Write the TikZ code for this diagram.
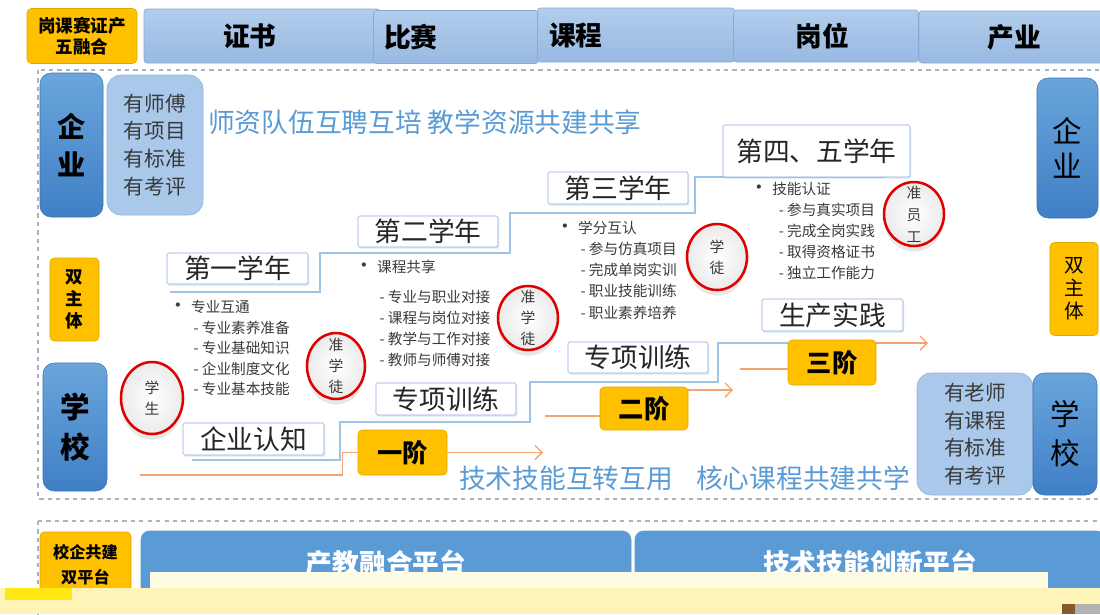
\documentclass[tikz,border=0pt]{standalone}
\usepackage{fontspec}
\setmainfont{Noto Sans CJK SC}
\usepackage{xcolor}
\usetikzlibrary{shapes.geometric, arrows.meta, positioning, calc, shadows}

\definecolor{hdrtop}{HTML}{B2CDEC}
\definecolor{hdrbot}{HTML}{98B9E2}
\definecolor{hdredge}{HTML}{86ABD9}
\definecolor{gold}{HTML}{FFC000}
\definecolor{goldedge}{HTML}{E0A800}
\definecolor{darktop}{HTML}{6AA5DC}
\definecolor{darkbot}{HTML}{3F7FC5}
\definecolor{darkedge}{HTML}{3A74B4}
\definecolor{lightfill}{HTML}{A9C8EA}
\definecolor{lightedge}{HTML}{8DB3E2}
\definecolor{yearedge}{HTML}{8FAADC}
\definecolor{ringred}{HTML}{E00000}
\definecolor{stairblue}{HTML}{9DC3E6}
\definecolor{orline0}{HTML}{F3A470}
\definecolor{sloganblue}{HTML}{5B9BD5}
\definecolor{txtgray}{HTML}{3A3A3A}
\definecolor{platblue}{HTML}{5B9BD5}
\definecolor{framegray}{HTML}{A6B4C8}
\definecolor{cream}{HTML}{FFFBE3}
\definecolor{creamB}{HTML}{FFF4B8}
\definecolor{lemon}{HTML}{FFE814}

\newcommand{\setfs}[2]{\fontsize{#1}{#2}\selectfont}
\newcommand{\subitm}[1]{\hspace*{18pt}- #1}
\newcommand{\dotitm}[1]{{\setfs{14}{14}•} #1}

\begin{document}
\begin{tikzpicture}[
    x=0.025cm, y=-0.025cm,
    sz/.style 2 args={minimum width=#1*0.025cm, minimum height=#2*0.025cm},
    hdrbox/.style={draw=hdredge, top color=hdrtop, bottom color=hdrbot, rounded corners=2pt, inner sep=0pt},
    hdrtext/.style={font=\bfseries\setfs{19}{21}, text=black},
    goldbox/.style={draw=goldedge, fill=gold, rounded corners=3pt, inner sep=0pt, align=center},
    darkbox/.style={draw=darkedge, top color=darktop, bottom color=darkbot, rounded corners=8pt, inner sep=0pt, align=center},
    lightbox/.style={draw=lightedge, fill=lightfill, rounded corners=10pt, inner sep=0pt, align=center, text=txtgray},
    yearbox/.style={draw=yearedge, fill=white, rounded corners=1pt, inner sep=0pt, font=\setfs{19}{21}, text=black!85,
        drop shadow={shadow xshift=1pt, shadow yshift=-1.5pt, opacity=0.25, fill=stairblue}},
    stagebox/.style={goldbox, font=\bfseries\setfs{18}{20}},
    rolering/.style={ellipse, draw=ringred, line width=1.8pt, inner color=white, outer color=gray!16,
        drop shadow={shadow xshift=0pt, shadow yshift=-4pt, opacity=0.18}, inner sep=0pt},
    ringtext/.style={align=center, inner sep=0pt, text=txtgray, font=\setfs{10.5}{14.8}},
    list/.style={anchor=north west, inner sep=0pt, align=left, text=txtgray, font=\setfs{10.4}{15}},
    stair/.style={draw=stairblue, line width=1.2pt},
    orline/.style={draw=orline0, line width=1pt},
    orarrow/.style={orline, -{Straight Barb[length=5pt,width=10pt]}},
    slogan/.style={text=sloganblue, font=\setfs{19}{21}},
    frame/.style={draw=framegray, dashed, line width=0.8pt},
    platbox/.style={draw=platblue, fill=platblue, rounded corners=6pt, inner sep=0pt, text=white, font=\bfseries\setfs{19}{21}}
]
    \useasboundingbox[fill=white] (0,0) rectangle (1100,614);

    % five-fold header
    \node[goldbox, sz={110}{55}, font=\bfseries\setfs{12.5}{15}] (tag) at (82,36) {岗课赛证产\\五融合};
    \node[hdrbox, sz={236}{54}, label={[hdrtext, xshift=-0.3cm]center:证书}] (cert) at (262,36) {};
    \node[hdrbox, sz={165}{53}, label={[hdrtext, xshift=-1.125cm]center:比赛}] (comp) at (456,37) {};
    \node[hdrbox, sz={197}{54}, label={[hdrtext, xshift=-1.5cm]center:课程}] (course) at (636,35) {};
    \node[hdrbox, sz={185}{52}, label={[hdrtext, xshift=-0.1cm]center:岗位}] (post) at (826,36) {};
    \node[hdrbox, sz={190}{52}, label={[hdrtext]center:产业}] (indus) at (1014,37) {};

    % main frame
    \draw[frame] (38,70) rectangle (1110,499);

    % left column
    \node[darkbox, sz={63}{144}, font=\bfseries\setfs{20}{27.6}] (entL) at (71.5,145) {企\\业};
    \node[lightbox, sz={96}{140}, font=\setfs{14.7}{19.8}] (entRes) at (155,145) {有师傅\\有项目\\有标准\\有考评};
    \node[goldbox, sz={49}{83}, font=\bfseries\setfs{12.5}{15.6}] (dualL) at (74.5,299.5) {双\\主\\体};
    \node[darkbox, sz={64}{128}, font=\bfseries\setfs{21}{28}] (schL) at (75,427) {学\\校};

    % right column
    \node[darkbox, sz={61}{140}, font=\setfs{21}{25}] (entR) at (1067.5,148) {企\\业};
    \node[goldbox, sz={48}{93}, font=\setfs{14}{16.3}] (dualR) at (1074,289) {双\\主\\体};
    \node[lightbox, sz={116}{122}, font=\setfs{14.7}{19.6}] (schRes) at (975,434) {有老师\\有课程\\有标准\\有考评};
    \node[darkbox, sz={64}{122}, font=\setfs{21}{27.6}] (schR) at (1065,434) {学\\校};

    % slogans
    \node[slogan] (slogTop) at (425,122) {师资队伍互聘互培 教学资源共建共享};
    \node[slogan] (slogL) at (566,478) {技术技能互转互用};
    \node[slogan] (slogR) at (803,478) {核心课程共建共学};

    % stair lines
    \draw[stair] (170,292) -| (320,253) -| (510,213) -| (695,177) -- (885,177);
    \draw[stair] (192,460) -| (340,422) -| (530,382) -| (718,343) -- (905,343);

    % year boxes
    \node[yearbox, sz={141}{31}] (y1) at (237.5,268.5) {第一学年};
    \node[yearbox, sz={140}{31}] (y2) at (428,231.5) {第二学年};
    \node[yearbox, sz={140}{32}] (y3) at (618,188) {第三学年};
    \node[yearbox, sz={187}{52}] (y4) at (816.5,151) {第四、五学年};

    % training boxes
    \node[yearbox, sz={141}{32}] (t1) at (253.5,439) {企业认知};
    \node[yearbox, sz={140}{32}] (t2) at (446,399) {专项训练};
    \node[yearbox, sz={140}{31}] (t3) at (638,357.5) {专项训练};
    \node[yearbox, sz={141}{32}] (t4) at (832.5,315) {生产实践};

    % stages
    \node[stagebox, sz={89}{45}] (s1) at (402.5,452.5) {一阶};
    \node[stagebox, sz={88}{43}] (s2) at (644,408.5) {二阶};
    \node[stagebox, sz={88}{45}] (s3) at (832,362.5) {三阶};

    \coordinate (e1) at (140,475);
    \coordinate (e2) at (545,416);
    \coordinate (e3) at (740,369);
    \coordinate (a1) at (543,452.5);
    \coordinate (a2) at (733,390);
    \coordinate (a3) at (928,343);
    \draw[orline] (e1) -| ($(s1.west)+(-15,0)$) -- (s1.west);
    \draw[orarrow] (s1.east) -- (a1);
    \draw[orline] (e2) -- (s2.west |- e2);
    \draw[orarrow] (s2.east |- a2) -- (a2);
    \draw[orline] (e3) -- (s3.west |- e3);
    \draw[orarrow] (s3.east |- a3) -- (a3);

    % item lists
    \node[list, font=\setfs{10.4}{14.6}] (list1) at (168,300) {\dotitm{专业互通}\\\subitm{专业素养准备}\\\subitm{专业基础知识}\\\subitm{企业制度文化}\\\subitm{专业基本技能}};
    \node[list] (list2) at (354,260) {\dotitm{课程共享}\\[6pt]\subitm{专业与职业对接}\\\subitm{课程与岗位对接}\\\subitm{教学与工作对接}\\\subitm{教师与师傅对接}};
    \node[list] (list3) at (555,221) {\dotitm{学分互认}\\\subitm{参与仿真项目}\\\subitm{完成单岗实训}\\\subitm{职业技能训练}\\\subitm{职业素养培养}};
    \node[list] (list4) at (749,182) {\dotitm{技能认证}\\\hspace*{3pt}\subitm{参与真实项目}\\\hspace*{3pt}\subitm{完成全岗实践}\\\hspace*{3pt}\subitm{取得资格证书}\\\hspace*{3pt}\subitm{独立工作能力}};

    % roles
    \node[rolering, sz={62}{72}, label={[ringtext]center:学\\生}] (r1) at (152,398) {};
    \node[rolering, sz={58}{66}, label={[ringtext]center:准\\学\\徒}] (r2) at (336,366) {};
    \node[rolering, sz={60}{64}, label={[ringtext]center:准\\学\\徒}] (r3) at (528,318) {};
    \node[rolering, sz={60}{66}, label={[ringtext]center:学\\徒}] (r4) at (717,257) {};
    \node[rolering, sz={60}{64}, label={[ringtext, font=\setfs{10.5}{15.6}]center:准\\员\\工}] (r5) at (914,214) {};

    % platforms
    \draw[frame] (38,521) -- (1110,521);
    \draw[frame] (38,521) -- (38,614);
    \node[goldbox, sz={91}{66}, font=\bfseries\setfs{11.5}{17.5}] (platTag) at (85.5,565) {校企共建\\双平台};
    \node[platbox, sz={490}{64}] (plat1) at (386,563) {产教融合平台};
    \node[platbox, sz={470}{64}] (plat2) at (870,563) {技术技能创新平台};

    % cut-off strip
    \fill[cream] (150,572) rectangle (1048,590);
    \fill[creamB] (0,588) rectangle (1100,614);
    \fill[lemon] (5,588) rectangle (72,600);
    \fill[brown!70!black] (1062,604) rectangle (1075,614);
    \fill[gray!60] (1075,604) rectangle (1100,614);
\end{tikzpicture}
\end{document}
